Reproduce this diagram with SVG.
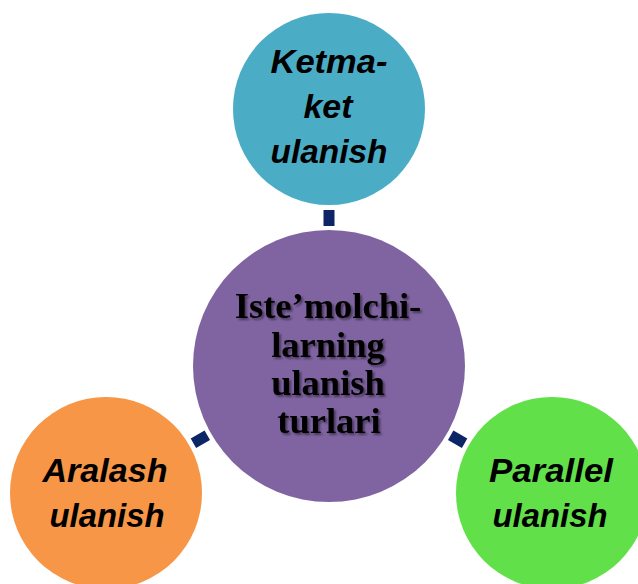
<svg xmlns="http://www.w3.org/2000/svg" width="638" height="584" viewBox="0 0 638 584">
  <style>
    .conn { stroke: #0C2566; stroke-width: 11; stroke-linecap: butt; fill: none; }
    .lbl { font-family: "Liberation Sans", Arial, sans-serif; font-weight: bold; font-style: italic; font-size: 34px; fill: #000; text-anchor: middle; }
    .hub { font-family: "Liberation Serif", "Times New Roman", serif; font-weight: bold; font-size: 36.5px; fill: #000; text-anchor: middle; }
  </style>
  <defs>
    <filter id="txtShadow" x="-10%" y="-10%" width="130%" height="130%">
      <feGaussianBlur in="SourceAlpha" stdDeviation="1"/>
      <feOffset dx="2" dy="2" result="off"/>
      <feComponentTransfer><feFuncA type="linear" slope="0.45"/></feComponentTransfer>
      <feMerge><feMergeNode/><feMergeNode in="SourceGraphic"/></feMerge>
    </filter>
  </defs>
  <rect width="638" height="584" fill="#FFFFFF"/>

  <!-- connectors -->
  <g id="connectors">
    <line class="conn" x1="329" y1="210" x2="329" y2="226"/>
    <line class="conn" x1="207.3" y1="435.3" x2="193.4" y2="443.2"/>
    <line class="conn" x1="450.7" y1="435.3" x2="464.6" y2="443.2"/>
  </g>

  <g id="node-ketma-ket">
    <circle cx="329" cy="109" r="96" fill="#4BACC6"/>
    <text class="lbl" x="329" y="73" textLength="117" lengthAdjust="spacingAndGlyphs">Ketma-</text>
    <text class="lbl" x="328" y="118" textLength="49" lengthAdjust="spacingAndGlyphs">ket</text>
    <text class="lbl" x="329" y="163" textLength="117" lengthAdjust="spacingAndGlyphs">ulanish</text>
  </g>

  <g id="node-center">
    <circle cx="329" cy="366" r="136" fill="#8064A2"/>
    <g filter="url(#txtShadow)">
      <text class="hub" x="328" y="318">Iste’molchi-</text>
      <text class="hub" x="328" y="357">larning</text>
      <text class="hub" x="328" y="395">ulanish</text>
      <text class="hub" x="329" y="433">turlari</text>
    </g>
  </g>

  <g id="node-aralash">
    <circle cx="106" cy="493" r="96" fill="#F79646"/>
    <text class="lbl" x="105" y="482" textLength="125" lengthAdjust="spacingAndGlyphs">Aralash</text>
    <text class="lbl" x="107" y="527" textLength="115" lengthAdjust="spacingAndGlyphs">ulanish</text>
  </g>

  <g id="node-parallel">
    <circle cx="552" cy="493" r="96" fill="#62E04A"/>
    <text class="lbl" x="551" y="482" textLength="124" lengthAdjust="spacingAndGlyphs">Parallel</text>
    <text class="lbl" x="550" y="527" textLength="115" lengthAdjust="spacingAndGlyphs">ulanish</text>
  </g>
</svg>
